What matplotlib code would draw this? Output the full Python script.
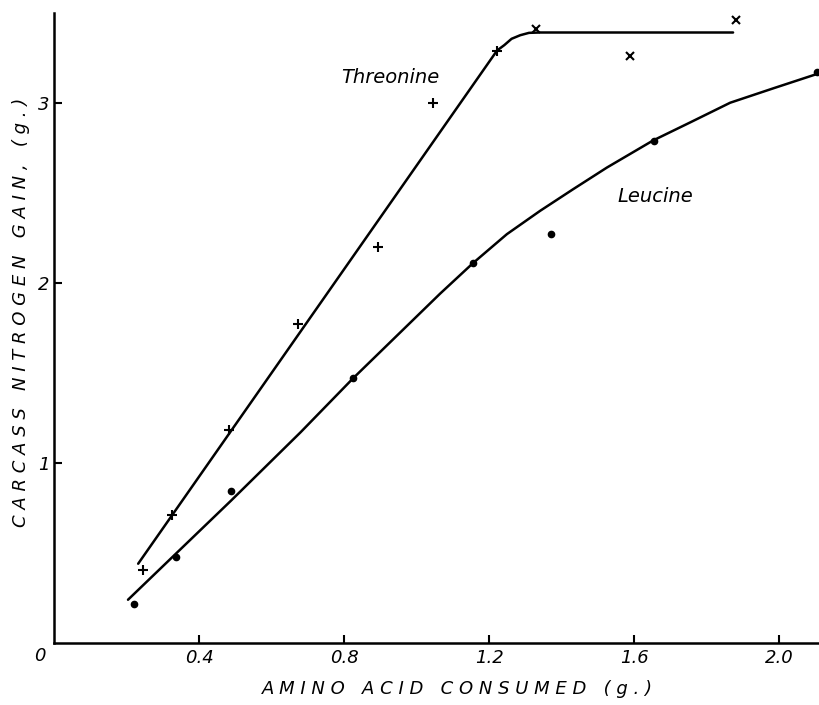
import matplotlib.pyplot as plt

# Threonine observations (g. consumed, g. N gain)
thr_x = [0.245, 0.325, 0.483, 0.673, 0.894, 1.046, 1.222, 1.33, 1.589, 1.881]
thr_y = [0.405, 0.71, 1.18, 1.77, 2.20, 3.00, 3.29, 3.41, 3.26, 3.46]
thr_mark = ['+', '+', '+', '+', '+', '+', '+', 'x', 'x', 'x']

# Leucine observations
leu_x = [0.221, 0.336, 0.488, 0.825, 1.156, 1.371, 1.655, 2.105]
leu_y = [0.217, 0.48, 0.845, 1.47, 2.11, 2.27, 2.79, 3.17]

# hand-drawn fitted curves
thr_line_x = [0.232, 1.222, 1.242, 1.262, 1.286, 1.31, 1.34, 1.873]
thr_line_y = [0.44, 3.29, 3.32, 3.355, 3.375, 3.388, 3.39, 3.39]
leu_line_x = [0.204, 0.488, 0.68, 0.825, 1.065, 1.156, 1.249, 1.341,
              1.432, 1.525, 1.652, 1.754, 1.865, 1.984, 2.105]
leu_line_y = [0.24, 0.79, 1.17, 1.47, 1.94, 2.11, 2.27, 2.40,
              2.52, 2.64, 2.79, 2.89, 3.00, 3.08, 3.16]

xticks = [0.4, 0.8, 1.2, 1.6, 2.0]
xtick_labels = ['0.4', '0.8', '1.2', '1.6', '2.0']
yticks = [1, 2, 3]

fig = plt.figure(figsize=(8.19, 7.05), dpi=100)
ax = fig.add_axes([0.066, 0.088, 0.934, 0.894])

ax.plot(thr_line_x, thr_line_y, color='black', lw=1.8, solid_capstyle='round', solid_joinstyle='round')
ax.plot(leu_line_x, leu_line_y, color='black', lw=1.8, solid_capstyle='round', solid_joinstyle='round')
for x, y, m in zip(thr_x, thr_y, thr_mark):
    ax.plot(x, y, marker=m, color='black', ms=7 if m == '+' else 5.5, mew=1.5, ls='none')
ax.plot(leu_x, leu_y, 'o', color='black', ms=4.5, ls='none')

ax.text(0.927, 3.14, 'Threonine', style='italic', fontsize=14, ha='center', va='center')
ax.text(1.658, 2.48, 'Leucine', style='italic', fontsize=14, ha='center', va='center')

ax.set_xlim(0, 2.11)
ax.set_ylim(0, 3.5)
ax.spines['top'].set_visible(False)
ax.spines['right'].set_visible(False)
ax.spines['left'].set_linewidth(1.8)
ax.spines['bottom'].set_linewidth(1.8)

ax.set_xticks(xticks)
ax.set_xticklabels(xtick_labels, style='italic', fontsize=13)
ax.set_yticks(yticks)
ax.set_yticklabels([str(t) for t in yticks], style='italic', fontsize=13)
ax.tick_params(axis='x', direction='in', length=6, width=1.5, pad=4)
ax.tick_params(axis='y', direction='in', length=6, width=1.5, pad=3)
ax.text(-0.04, -0.07, '0', style='italic', fontsize=13, ha='center', va='center')

ax.set_xlabel('A M I N O   A C I D   C O N S U M E D   ( g . )', style='italic', fontsize=13)
ax.xaxis.set_label_coords(0.527, -0.059)
ax.set_ylabel('C A R C A S S   N I T R O G E N   G A I N ,   ( g . )', style='italic', fontsize=13)
ax.yaxis.set_label_coords(-0.031, 0.525)

plt.savefig('out.png', dpi=100)
